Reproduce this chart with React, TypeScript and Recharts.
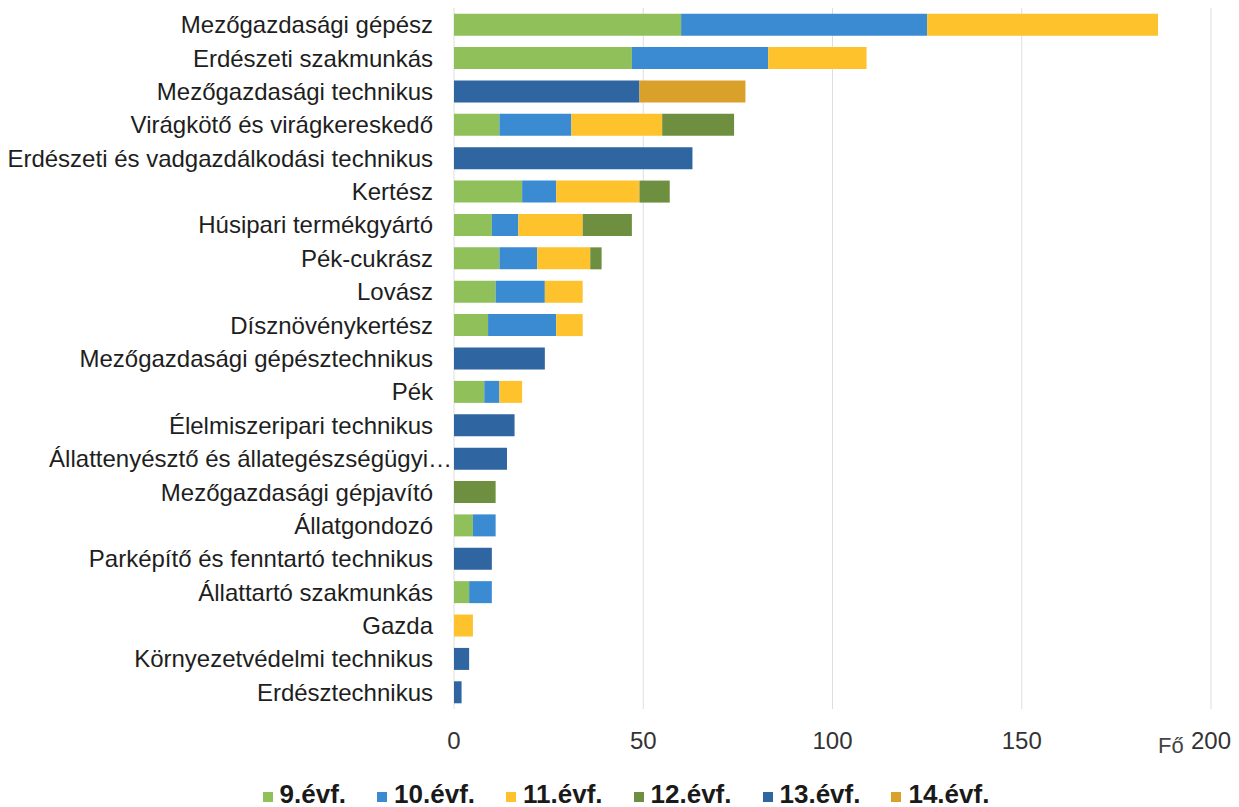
import React from 'react';
import { BarChart, Bar, XAxis, YAxis, CartesianGrid } from 'recharts';

const categories = [
  'Mezőgazdasági gépész',
  'Erdészeti szakmunkás',
  'Mezőgazdasági technikus',
  'Virágkötő és virágkereskedő',
  'Erdészeti és vadgazdálkodási technikus',
  'Kertész',
  'Húsipari termékgyártó',
  'Pék-cukrász',
  'Lovász',
  'Dísznövénykertész',
  'Mezőgazdasági gépésztechnikus',
  'Pék',
  'Élelmiszeripari technikus',
  'Állattenyésztő és állategészségügyi…',
  'Mezőgazdasági gépjavító',
  'Állatgondozó',
  'Parképítő és fenntartó technikus',
  'Állattartó szakmunkás',
  'Gazda',
  'Környezetvédelmi technikus',
  'Erdésztechnikus',
];

const evf9 = [60, 47, 0, 12, 0, 18, 10, 12, 11, 9, 0, 8, 0, 0, 0, 5, 0, 4, 0, 0, 0];
const evf10 = [65, 36, 0, 19, 0, 9, 7, 10, 13, 18, 0, 4, 0, 0, 0, 6, 0, 6, 0, 0, 0];
const evf11 = [61, 26, 0, 24, 0, 22, 17, 14, 10, 7, 0, 6, 0, 0, 0, 0, 0, 0, 5, 0, 0];
const evf12 = [0, 0, 0, 19, 0, 8, 13, 3, 0, 0, 0, 0, 0, 0, 11, 0, 0, 0, 0, 0, 0];
const evf13 = [0, 0, 49, 0, 63, 0, 0, 0, 0, 0, 24, 0, 16, 14, 0, 0, 10, 0, 0, 4, 2];
const evf14 = [0, 0, 28, 0, 0, 0, 0, 0, 0, 0, 0, 0, 0, 0, 0, 0, 0, 0, 0, 0, 0];

const xTicks = [0, 50, 100, 150, 200];

const series = [
  { key: 'evf9', label: '9.évf.', color: '#8fc05a', values: evf9 },
  { key: 'evf10', label: '10.évf.', color: '#3b8bd2', values: evf10 },
  { key: 'evf11', label: '11.évf.', color: '#fdc22c', values: evf11 },
  { key: 'evf12', label: '12.évf.', color: '#6f8f40', values: evf12 },
  { key: 'evf13', label: '13.évf.', color: '#2f65a0', values: evf13 },
  { key: 'evf14', label: '14.évf.', color: '#d9a02a', values: evf14 },
];

const data = categories.map((name, i) => {
  const row: any = { name };
  series.forEach(s => {
    row[s.key] = s.values[i];
  });
  return row;
});

const FONT = '"Liberation Sans", Arial, sans-serif';

function CategoryTick({ x, y, payload }: any) {
  const truncated = payload.value.endsWith('…');
  return (
    <text
      x={truncated ? x + 19 : x}
      y={y}
      dy="0.355em"
      textAnchor="end"
      fontSize={24}
      fontFamily={FONT}
      fill="#1e1e1e"
    >
      {payload.value}
    </text>
  );
}

export default function App() {
  return (
    <div style={{ position: 'absolute', left: 0, top: 0, width: 1239, height: 807, background: '#fff', fontFamily: FONT }}>
      <BarChart
        width={1239}
        height={807}
        data={data}
        layout="vertical"
        margin={{ top: 8, right: 28, bottom: 68, left: 0 }}
        barCategoryGap="17%"
      >
        <CartesianGrid horizontal={false} stroke="#dedede" />
        <XAxis
          type="number"
          domain={[0, 200]}
          ticks={xTicks}
          axisLine={false}
          tickLine={false}
          tickSize={0}
          tickMargin={23}
          height={30}
          tick={{ fontSize: 24, fill: '#333', fontFamily: FONT }}
        />
        <YAxis
          type="category"
          dataKey="name"
          width={454}
          axisLine={false}
          tickLine={false}
          tickSize={0}
          tickMargin={21}
          interval={0}
          tick={<CategoryTick />}
        />
        {series.map(s => (
          <Bar key={s.key} dataKey={s.key} stackId="a" fill={s.color} isAnimationActive={false} />
        ))}
      </BarChart>
      <div style={{ position: 'absolute', left: 1158, top: 733, fontSize: 22, color: '#444' }}>Fő</div>
      <div
        style={{
          position: 'absolute',
          left: 0,
          top: 779,
          width: 1252,
          display: 'flex',
          justifyContent: 'center',
          gap: 31,
        }}
      >
        {series.map(s => (
          <div key={s.key} style={{ display: 'flex', alignItems: 'center' }}>
            <span style={{ width: 10, height: 10, background: s.color, marginRight: 7, marginTop: 6 }} />
            <span style={{ fontSize: 26, fontWeight: 700, color: '#1a1a1a', lineHeight: '30px' }}>{s.label}</span>
          </div>
        ))}
      </div>
    </div>
  );
}
